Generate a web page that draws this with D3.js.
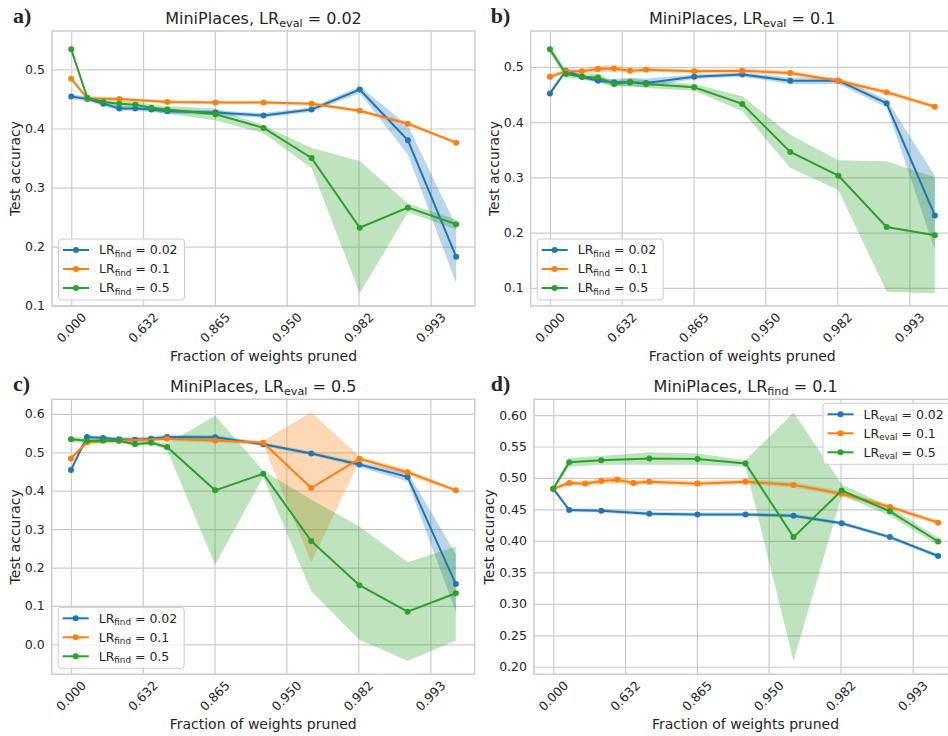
<!DOCTYPE html>
<html>
<head>
<meta charset="utf-8">
<script src="https://cdn.jsdelivr.net/npm/d3@7"></script>
<style>
  body { margin: 0; background: #fff; }
  text { font-family: "DejaVu Sans", sans-serif; fill: #262626; }
</style>
</head>
<body>
<svg id="chart" width="948" height="736"></svg>
<script>
// fraction of weights pruned after each pruning round
var pruned = [0, 0.2, 0.36, 0.488, 0.5904, 0.6723, 0.7379, 0.8658, 0.9313, 0.9648, 0.9820, 0.9908, 0.9953];
var tickFractions = [0, 0.6321, 0.8647, 0.9502, 0.9817, 0.9933];
var tickLabels = ['0.000', '0.632', '0.865', '0.950', '0.982', '0.993'];
var yTicksAB = [0.1, 0.2, 0.3, 0.4, 0.5];
var yTicksC = [0.0, 0.1, 0.2, 0.3, 0.4, 0.5, 0.6];
var yTicksD = [0.20, 0.25, 0.30, 0.35, 0.40, 0.45, 0.50, 0.55, 0.60];
var lrLabels = ['0.02', '0.1', '0.5'];
var colors = ['#1f77b4', '#ff7f0e', '#2ca02c'];

// a) LR_eval = 0.02
var aF02   = [0.454, 0.450, 0.442, 0.434, 0.434, 0.432, 0.429, 0.427, 0.422, 0.432, 0.466, 0.380, 0.183];
var aF02Lo = [0.450, 0.446, 0.438, 0.430, 0.430, 0.428, 0.425, 0.423, 0.418, 0.428, 0.460, 0.356, 0.138];
var aF02Hi = [0.458, 0.454, 0.446, 0.438, 0.438, 0.436, 0.433, 0.431, 0.426, 0.436, 0.471, 0.405, 0.235];
var aF01   = [0.484, 0.451, null, 0.450, null, null, 0.445, 0.444, 0.444, 0.442, 0.430, 0.408, 0.376];
var aF01Lo = [0.481, 0.448, null, 0.447, null, null, 0.442, 0.441, 0.441, 0.439, 0.427, 0.405, 0.373];
var aF01Hi = [0.487, 0.454, null, 0.453, null, null, 0.448, 0.447, 0.447, 0.445, 0.433, 0.411, 0.379];
var aF05   = [0.534, 0.452, 0.445, 0.442, 0.440, 0.435, 0.432, 0.424, 0.401, 0.350, 0.232, 0.266, 0.238];
var aF05Lo = [0.531, 0.449, 0.441, 0.437, 0.434, 0.429, 0.425, 0.414, 0.392, 0.333, 0.121, 0.258, 0.229];
var aF05Hi = [0.537, 0.455, 0.449, 0.447, 0.446, 0.441, 0.438, 0.434, 0.405, 0.367, 0.345, 0.273, 0.246];

// b) LR_eval = 0.1
var bF02   = [0.452, 0.493, 0.482, 0.475, 0.472, 0.472, 0.471, 0.482, 0.486, 0.475, 0.475, 0.434, 0.231];
var bF02Lo = [0.449, 0.489, 0.478, 0.471, 0.466, 0.464, 0.463, 0.478, 0.482, 0.469, 0.469, 0.427, 0.169];
var bF02Hi = [0.455, 0.497, 0.486, 0.479, 0.478, 0.480, 0.479, 0.486, 0.490, 0.481, 0.481, 0.441, 0.303];
var bF01   = [0.482, 0.492, 0.492, 0.496, 0.497, 0.493, 0.495, 0.492, 0.493, 0.489, 0.475, 0.454, 0.428];
var bF01Lo = [0.478, 0.488, 0.488, 0.490, 0.491, 0.489, 0.491, 0.488, 0.489, 0.485, 0.471, 0.450, 0.424];
var bF01Hi = [0.486, 0.496, 0.496, 0.502, 0.503, 0.497, 0.499, 0.496, 0.497, 0.493, 0.479, 0.458, 0.432];
var bF05   = [0.532, 0.487, 0.482, 0.481, 0.469, 0.472, 0.469, 0.463, 0.433, 0.346, 0.303, 0.210, 0.195];
var bF05Lo = [0.524, 0.480, 0.477, 0.474, 0.464, 0.466, 0.462, 0.457, 0.420, 0.317, 0.277, 0.093, 0.090];
var bF05Hi = [0.540, 0.494, 0.487, 0.488, 0.474, 0.480, 0.476, 0.469, 0.447, 0.377, 0.331, 0.329, 0.300];

// c) LR_eval = 0.5
var cF02   = [0.454, 0.540, 0.537, 0.534, 0.533, 0.535, 0.540, 0.539, 0.521, 0.497, 0.468, 0.436, 0.157];
var cF02Lo = [0.449, 0.535, 0.532, 0.528, 0.527, 0.529, 0.534, 0.533, 0.516, 0.492, 0.462, 0.424, 0.085];
var cF02Hi = [0.459, 0.545, 0.542, 0.540, 0.539, 0.541, 0.546, 0.545, 0.526, 0.502, 0.474, 0.448, 0.235];
var cF01   = [0.484, 0.526, null, 0.530, null, null, 0.535, 0.531, 0.525, 0.407, 0.483, 0.448, 0.401];
var cF01Lo = [0.479, 0.520, null, 0.524, null, null, 0.529, 0.525, 0.520, 0.214, 0.477, 0.441, 0.396];
var cF01Hi = [0.489, 0.532, null, 0.536, null, null, 0.541, 0.537, 0.530, 0.604, 0.489, 0.455, 0.406];
var cF05   = [0.534, 0.530, 0.531, 0.530, 0.521, 0.525, 0.514, 0.401, 0.444, 0.269, 0.154, 0.085, 0.133];
var cF05Lo = [0.527, 0.523, 0.526, 0.525, 0.516, 0.520, 0.506, 0.207, 0.436, 0.138, 0.012, -0.043, 0.010];
var cF05Hi = [0.541, 0.537, 0.536, 0.535, 0.526, 0.530, 0.522, 0.595, 0.452, 0.377, 0.307, 0.214, 0.255];

// d) LR_find = 0.1
var dE02   = [0.483, 0.449, null, 0.448, null, null, 0.443, 0.442, 0.442, 0.440, 0.428, 0.406, 0.376];
var dE02Lo = [0.480, 0.446, null, 0.445, null, null, 0.440, 0.439, 0.439, 0.437, 0.425, 0.403, 0.373];
var dE02Hi = [0.486, 0.452, null, 0.451, null, null, 0.446, 0.445, 0.445, 0.443, 0.431, 0.409, 0.379];
var dE01   = [0.483, 0.492, 0.491, 0.495, 0.497, 0.492, 0.494, 0.491, 0.494, 0.489, 0.475, 0.454, 0.429];
var dE01Lo = [0.479, 0.488, 0.487, 0.490, 0.491, 0.488, 0.490, 0.487, 0.490, 0.485, 0.471, 0.450, 0.425];
var dE01Hi = [0.487, 0.496, 0.495, 0.500, 0.503, 0.496, 0.498, 0.495, 0.498, 0.493, 0.479, 0.458, 0.433];
var dE05   = [0.483, 0.525, null, 0.528, null, null, 0.531, 0.530, 0.523, 0.406, 0.480, 0.447, 0.399];
var dE05Lo = [0.480, 0.518, null, 0.521, null, null, 0.521, 0.521, 0.518, 0.209, 0.472, 0.440, 0.393];
var dE05Hi = [0.486, 0.532, null, 0.535, null, null, 0.541, 0.539, 0.528, 0.604, 0.490, 0.454, 0.405];

var W = 423, H = 275;
var svg = d3.select('#chart');

var panels = [
  {tag: 'a)', left: 52, top: 31, yDomain: [0.0995, 0.565], yTicks: yTicksAB, fmt: '.1f',
   title: ['MiniPlaces, LR', 'eval', ' = 0.02'], key: 'find', legend: 'bl', ylab: 32,
   series: [[aF02, aF02Lo, aF02Hi], [aF01, aF01Lo, aF01Hi], [aF05, aF05Lo, aF05Hi]]},
  {tag: 'b)', left: 530.7, top: 31, yDomain: [0.067, 0.565], yTicks: yTicksAB, fmt: '.1f',
   title: ['MiniPlaces, LR', 'eval', ' = 0.1'], key: 'find', legend: 'bl', ylab: 32,
   series: [[bF02, bF02Lo, bF02Hi], [bF01, bF01Lo, bF01Hi], [bF05, bF05Lo, bF05Hi]]},
  {tag: 'c)', left: 51.7, top: 399.3, yDomain: [-0.078, 0.638], yTicks: yTicksC, fmt: '.1f',
   title: ['MiniPlaces, LR', 'eval', ' = 0.5'], key: 'find', legend: 'bl', ylab: 32,
   series: [[cF02, cF02Lo, cF02Hi], [cF01, cF01Lo, cF01Hi], [cF05, cF05Lo, cF05Hi]]},
  {tag: 'd)', left: 534, top: 399.3, yDomain: [0.188, 0.625], yTicks: yTicksD, fmt: '.2f',
   title: ['MiniPlaces, LR', 'find', ' = 0.1'], key: 'eval', legend: 'tr', ylab: 40,
   series: [[dE02, dE02Lo, dE02Hi], [dE01, dE01Lo, dE01Hi], [dE05, dE05Lo, dE05Hi]]}
];

// x axis is log of the remaining weights, shown as fraction pruned
var x = d3.scaleLog().domain([Math.exp(0.268), Math.exp(-5.623)]).range([0, W]);

function lrText(sel, parts, fs, sub) {
  sel.append('tspan').text(parts[0]);
  sel.append('tspan').attr('font-size', fs * 0.7).attr('dy', sub).text(parts[1]);
  sel.append('tspan').attr('dy', -sub).text(parts[2]);
}

panels.forEach(function(p) {
  var y = d3.scaleLinear().domain(p.yDomain).range([H, 0]);
  var g = svg.append('g').attr('transform', 'translate(' + p.left + ',' + p.top + ')');

  // grid + tick labels
  var xa = g.append('g').attr('transform', 'translate(0,' + H + ')')
    .call(d3.axisBottom(x).tickValues(tickFractions.map(function(f) { return 1 - f; }))
      .tickFormat(function(d, i) { return tickLabels[i]; }).tickSizeInner(-H).tickSizeOuter(0));
  xa.select('.domain').remove();
  xa.selectAll('line').attr('stroke', '#cccccc').attr('stroke-width', 1.2);
  xa.selectAll('text').attr('y', 0).attr('dy', '0.32em').attr('font-size', 12.5)
    .attr('text-anchor', 'middle').attr('fill', '#262626')
    .attr('transform', 'translate(0,22) rotate(-45)');

  var ya = g.append('g')
    .call(d3.axisLeft(y).tickValues(p.yTicks).tickFormat(d3.format(p.fmt))
      .tickSizeInner(-W).tickSizeOuter(0).tickPadding(7));
  ya.select('.domain').remove();
  ya.selectAll('line').attr('stroke', '#cccccc').attr('stroke-width', 1.2);
  ya.selectAll('text').attr('font-size', 12.5).attr('fill', '#262626');

  g.append('rect').attr('width', W).attr('height', H)
    .attr('fill', 'none').attr('stroke', '#cccccc').attr('stroke-width', 1.5);

  var sets = p.series.map(function(s) {
    return pruned.map(function(f, i) { return {f: f, m: s[0][i], lo: s[1][i], hi: s[2][i]}; })
      .filter(function(d) { return d.m != null; });
  });

  var area = d3.area()
    .x(function(d) { return x(1 - d.f); })
    .y0(function(d) { return y(d.lo); })
    .y1(function(d) { return y(d.hi); });
  var line = d3.line()
    .x(function(d) { return x(1 - d.f); })
    .y(function(d) { return y(d.m); });

  sets.forEach(function(pts, k) {
    g.append('path').attr('d', area(pts)).attr('fill', colors[k]).attr('fill-opacity', 0.3);
  });
  sets.forEach(function(pts, k) {
    g.append('path').attr('d', line(pts)).attr('fill', 'none')
      .attr('stroke', colors[k]).attr('stroke-width', 2);
    g.selectAll('.pt' + k).data(pts).enter().append('circle')
      .attr('cx', function(d) { return x(1 - d.f); })
      .attr('cy', function(d) { return y(d.m); })
      .attr('r', 3).attr('fill', colors[k]);
  });

  // title
  var t = g.append('text').attr('x', W / 2).attr('y', -7)
    .attr('text-anchor', 'middle').attr('font-size', 16);
  lrText(t, p.title, 16, 3);

  // axis labels
  g.append('text').attr('x', W / 2).attr('y', H + 54.5)
    .attr('text-anchor', 'middle').attr('font-size', 14).text('Fraction of weights pruned');
  g.append('text').attr('transform', 'translate(' + (-p.ylab) + ',' + (H / 2) + ') rotate(-90)')
    .attr('text-anchor', 'middle').attr('font-size', 14).text('Test accuracy');

  // panel letter
  svg.append('text').attr('x', p.left < 100 ? 13 : 490.7).attr('y', p.top - 8)
    .attr('font-family', '"Liberation Serif", serif').attr('font-weight', 'bold')
    .attr('font-size', 22).attr('fill', '#000').style('font-family', '"Liberation Serif", serif')
    .text(p.tag);

  // legend
  var lw = 126, lh = 61;
  var lx = p.legend == 'bl' ? 6.5 : W - 6 - lw - 2;
  var ly = p.legend == 'bl' ? H - 6 - lh : 4;
  var leg = g.append('g').attr('transform', 'translate(' + lx + ',' + ly + ')');
  leg.append('rect').attr('width', lw).attr('height', lh).attr('rx', 3)
    .attr('fill', '#fff').attr('fill-opacity', 0.8).attr('stroke', '#cccccc');
  lrLabels.forEach(function(lab, k) {
    var row = leg.append('g').attr('transform', 'translate(0,' + (11 + k * 19) + ')');
    row.append('line').attr('x1', 4.5).attr('x2', 30.5)
      .attr('stroke', colors[k]).attr('stroke-width', 2);
    row.append('circle').attr('cx', 17.5).attr('r', 3).attr('fill', colors[k]);
    var tx = row.append('text').attr('x', 40.5).attr('dy', '0.35em').attr('font-size', 12.5);
    lrText(tx, ['LR', p.key, ' = ' + lab], 12.5, 2.5);
  });
});
</script>
</body>
</html>
